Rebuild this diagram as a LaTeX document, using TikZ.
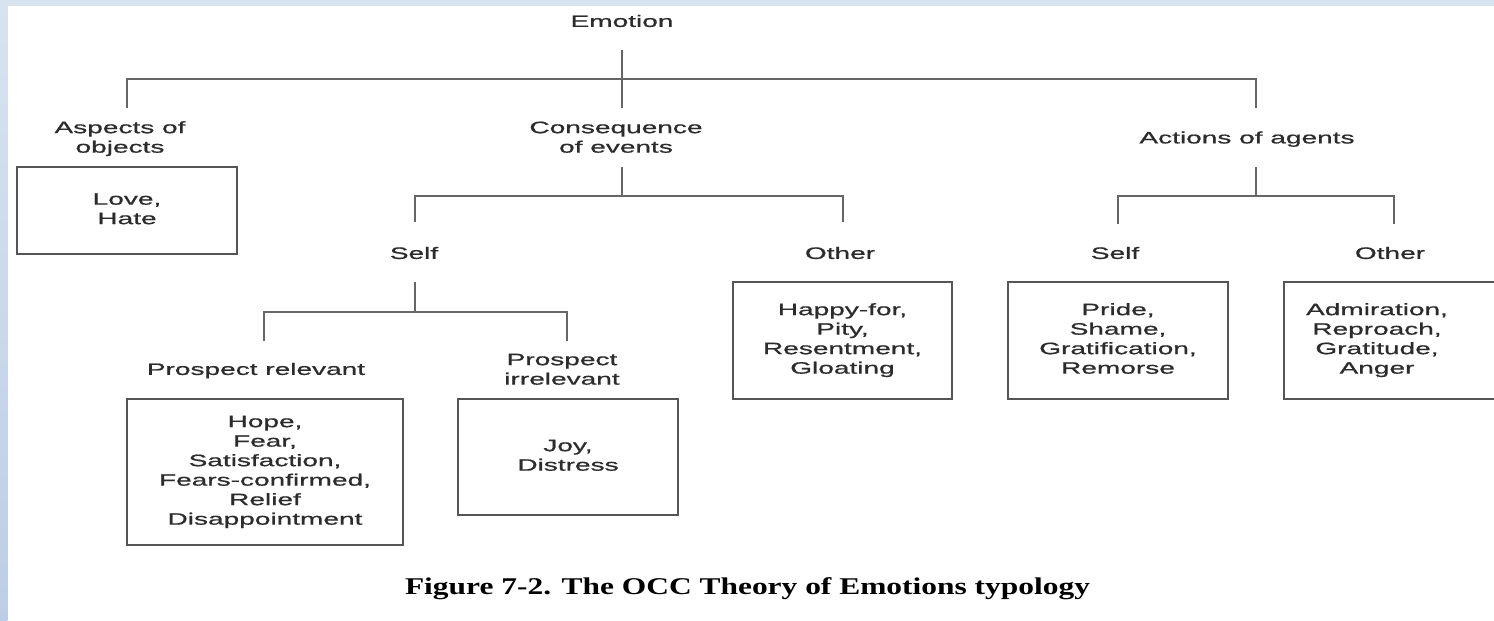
\documentclass[tikz,border=0pt]{standalone}
\usepackage{fontspec}
\newfontfamily\labfont[FakeStretch=1.7,FakeBold=0.8]{Liberation Sans}
\newfontfamily\capfont[FakeStretch=1.31]{Liberation Serif}
\definecolor{txt}{HTML}{2C2C2C}
\definecolor{ln}{HTML}{666666}
\definecolor{bx}{HTML}{555555}
\definecolor{bandtop}{HTML}{D8E3F0}
\definecolor{bandmid}{HTML}{B2C7E2}
\definecolor{bandbot}{HTML}{BCCEE6}
\begin{document}
\begin{tikzpicture}[x=1pt,y=-1pt,
  lab/.style={font=\labfont\fontsize{16.5}{19.5}\selectfont, text=txt, align=center, inner sep=0pt},
  box/.style={lab, draw=bx, line width=1.8pt},
  boxline/.style={draw=bx, line width=1.8pt},
  link/.style={draw=ln, line width=2pt}]
\useasboundingbox (0,0) rectangle (1494,621);
% background
\fill[white] (0,0) rectangle (1494,621);
\fill[bandtop] (0,0) rectangle (1494,5.7);
\shade[top color=bandtop, middle color=bandmid, bottom color=bandbot] (0,0) rectangle (7.3,621);

% labels
\node[lab] (emo) at (622,23) {\strut Emotion};
\node[lab] (asp) at (120,139) {\strut Aspects of\\\strut objects};
\node[lab] (cons) at (616,139) {\strut Consequence\\\strut of events};
\node[lab] (act) at (1247,139.5) {\strut Actions of agents};
\node[lab] (cself) at (414,255) {\strut Self};
\node[lab] (cother) at (840,255) {\strut Other};
\node[lab] (aself) at (1115,255) {\strut Self};
\node[lab] (aother) at (1390,255) {\strut Other};
\node[lab] (prel) at (256,371) {\strut Prospect relevant};
\node[lab] (pirr) at (562,371) {\strut Prospect\\\strut irrelevant};

% boxes
\node[box, minimum width=220pt, minimum height=87pt] (love) at (127,210.5)
  {\strut Love,\\\strut Hate};
\node[box, minimum width=276pt, minimum height=146pt] (hope) at (265,472)
  {\strut Hope,\\\strut Fear,\\\strut Satisfaction,\\\strut Fears-confirmed,\\\strut Relief\\\strut Disappointment};
\node[box, minimum width=220pt, minimum height=116pt] (joy) at (568,457)
  {\strut Joy,\\\strut Distress};
\node[box, minimum width=219pt, minimum height=117pt] (happy) at (842.5,340.5)
  {\strut Happy-for,\\\strut Pity,\\\strut Resentment,\\\strut Gloating};
\node[box, minimum width=220pt, minimum height=117pt] (pride) at (1118,340.5)
  {\strut Pride,\\\strut Shame,\\\strut Gratification,\\\strut Remorse};
\draw[boxline] (1284,282) rectangle (1510,399);
\node[lab] (admir) at (1377,340.5)
  {\strut Admiration,\\\strut Reproach,\\\strut Gratitude,\\\strut Anger};

% connector points
\coordinate (emoOut) at (622,50);
\coordinate (j0) at (622,79);
\coordinate (aspIn) at (127,108);
\coordinate (consIn) at (622,108);
\coordinate (actIn) at (1256,108);
\coordinate (consOut) at (622,167);
\coordinate (j1) at (622,196);
\coordinate (cselfIn) at (415,222);
\coordinate (cotherIn) at (843,222);
\coordinate (actOut) at (1256,167);
\coordinate (j2) at (1256,196);
\coordinate (aselfIn) at (1118,224);
\coordinate (aotherIn) at (1394,224);
\coordinate (cselfOut) at (415,282);
\coordinate (j3) at (415,312);
\coordinate (prelIn) at (264,341);
\coordinate (pirrIn) at (567,341);

% connectors
\draw[link] (emoOut) -- (consIn);
\draw[link] (aspIn) |- (j0) -| (actIn);
\draw[link] (consOut) -- (j1);
\draw[link] (cselfIn) |- (j1) -| (cotherIn);
\draw[link] (actOut) -- (j2);
\draw[link] (aselfIn) |- (j2) -| (aotherIn);
\draw[link] (cselfOut) -- (j3);
\draw[link] (prelIn) |- (j3) -| (pirrIn);

% caption
\node[font=\capfont\bfseries\fontsize{24}{28}\selectfont, text=black, anchor=base, inner sep=0pt] (cap) at (747.5,594)
  {Figure 7-2. The OCC Theory of Emotions typology};
\end{tikzpicture}
\end{document}
